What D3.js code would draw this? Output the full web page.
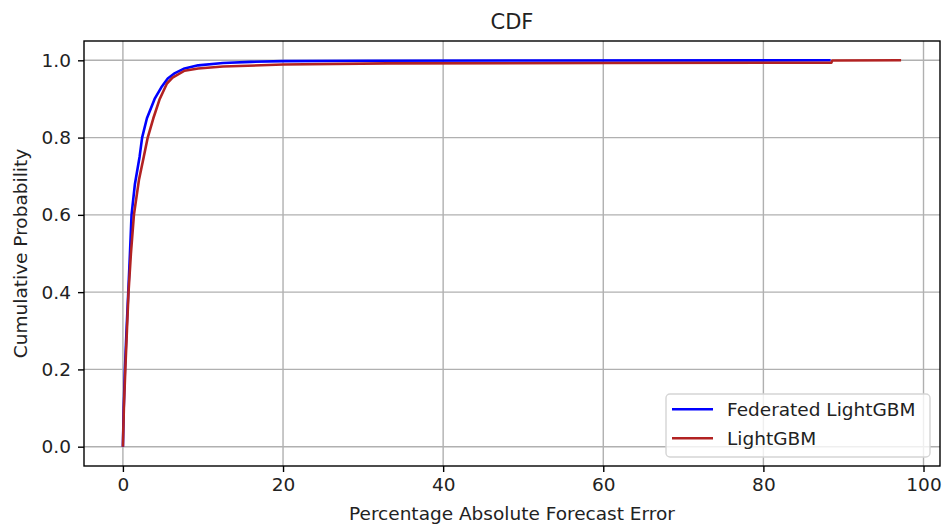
<!DOCTYPE html>
<html>
<head>
  <meta charset="utf-8">
  <script src="https://d3js.org/d3.v7.min.js"></script>
  <style>
    body { margin: 0; background: #fff; }
    text { font-family: "DejaVu Sans", sans-serif; fill: #222; }
  </style>
</head>
<body>
<script>
// CDF of percentage absolute forecast error
var fedX = [0, 0.1, 0.25, 0.45, 0.67, 0.88, 1.08, 1.5, 2.08, 2.4, 3.0, 3.96, 4.8, 5.6, 6.5, 7.7, 9.4, 12.5, 16, 20, 30, 50, 88.4];
var fedY = [0, 0.1, 0.2, 0.3, 0.4, 0.5, 0.6, 0.68, 0.75, 0.8, 0.85, 0.9, 0.93, 0.953, 0.967, 0.979, 0.987, 0.993, 0.996, 0.998, 0.999, 0.9995, 1.0];
var lgbX = [0, 0.12, 0.3, 0.5, 0.7, 1.0, 1.375, 2.0, 2.6, 3.1, 3.8, 4.6, 5.5, 6.2, 7.7, 9.4, 12.5, 20, 33, 60, 88.5, 88.6, 97.2];
var lgbY = [0, 0.1, 0.2, 0.3, 0.4, 0.5, 0.6, 0.69, 0.75, 0.8, 0.85, 0.9, 0.94, 0.955, 0.973, 0.979, 0.984, 0.989, 0.992, 0.993, 0.994, 0.9995, 1.0];
var seriesNames = ["Federated LightGBM", "LightGBM"];
var seriesColors = ["blue", "firebrick"];
var xTicks = [0, 20, 40, 60, 80, 100];
var yTicks = [0, 0.2, 0.4, 0.6, 0.8, 1.0];

var W = 944, H = 528;
var pLeft = 84, pRight = 940, pTop = 41, pBottom = 466;
var fs = "18.5px";

var svg = d3.select("body").append("svg")
    .attr("width", W)
    .attr("height", H);

var x = d3.scaleLinear().domain([-4.86, 102.06]).range([pLeft, pRight]);
var y = d3.scaleLinear().domain([-0.05, 1.05]).range([pBottom, pTop]);

// grid
svg.append("g").selectAll("line").data(xTicks).enter().append("line")
    .attr("x1", d => x(d)).attr("x2", d => x(d))
    .attr("y1", pTop).attr("y2", pBottom)
    .style("stroke", "#b0b0b0").style("stroke-width", 1.4);
svg.append("g").selectAll("line").data(yTicks).enter().append("line")
    .attr("y1", d => y(d)).attr("y2", d => y(d))
    .attr("x1", pLeft).attr("x2", pRight)
    .style("stroke", "#b0b0b0").style("stroke-width", 1.4);

// axes
var xAxis = svg.append("g")
    .attr("transform", "translate(0," + pBottom + ")")
    .call(d3.axisBottom(x).tickValues(xTicks).tickSize(6).tickPadding(6).tickFormat(d3.format("d")));
var yAxis = svg.append("g")
    .attr("transform", "translate(" + pLeft + ",0)")
    .call(d3.axisLeft(y).tickValues(yTicks).tickSize(6).tickPadding(7).tickFormat(d3.format(".1f")));
[xAxis, yAxis].forEach(function (a) {
  a.select(".domain").remove();
  a.selectAll("line").style("stroke", "#000").style("stroke-width", 1.4);
  a.selectAll("text").style("font-size", fs).style("font-family", "DejaVu Sans").style("fill", "#222");
});

// lines
var line = d3.line().x(d => x(d[0])).y(d => y(d[1]));
var series = [d3.zip(fedX, fedY), d3.zip(lgbX, lgbY)];
series.forEach(function (s, i) {
  svg.append("path")
      .datum(s)
      .attr("d", line)
      .style("fill", "none")
      .style("stroke", seriesColors[i])
      .style("stroke-width", 2.6)
      .style("stroke-linejoin", "round");
});

// frame
svg.append("rect")
    .attr("x", pLeft).attr("y", pTop)
    .attr("width", pRight - pLeft).attr("height", pBottom - pTop)
    .style("fill", "none").style("stroke", "#000").style("stroke-width", 1.4);

// title and labels
svg.append("text")
    .attr("x", (pLeft + pRight) / 2).attr("y", 29)
    .attr("text-anchor", "middle")
    .style("font-size", "21px")
    .text("CDF");
svg.append("text")
    .attr("x", (pLeft + pRight) / 2).attr("y", 520)
    .attr("text-anchor", "middle")
    .style("font-size", fs)
    .text("Percentage Absolute Forecast Error");
svg.append("text")
    .attr("transform", "translate(27," + (pTop + pBottom) / 2 + ") rotate(-90)")
    .attr("text-anchor", "middle")
    .style("font-size", fs)
    .text("Cumulative Probability");

// legend
var lg = svg.append("g");
lg.append("rect")
    .attr("x", 666).attr("y", 394)
    .attr("width", 264).attr("height", 63)
    .attr("rx", 4)
    .style("fill", "rgba(255,255,255,0.8)")
    .style("stroke", "#d5d5d5")
    .style("stroke-width", 1.4);
seriesNames.forEach(function (n, i) {
  var yy = 409.3 + i * 29;
  lg.append("line")
      .attr("x1", 672).attr("x2", 713)
      .attr("y1", yy).attr("y2", yy)
      .style("stroke", seriesColors[i]).style("stroke-width", 2.6);
  lg.append("text")
      .attr("x", 727).attr("y", yy + 6.7)
      .style("font-size", fs)
      .text(n);
});
</script>
</body>
</html>
